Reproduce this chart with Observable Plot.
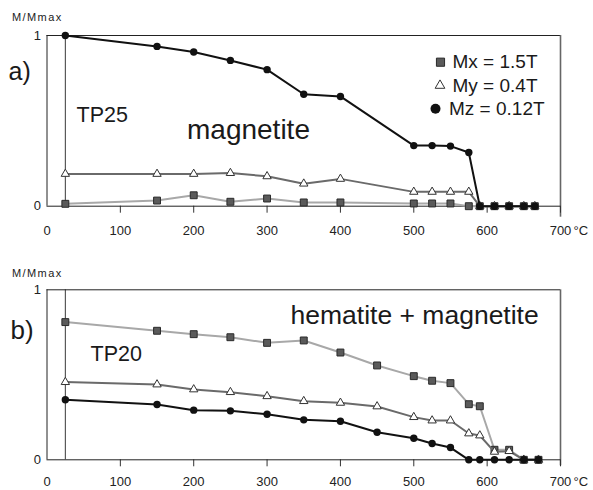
<!DOCTYPE html>
<html><head><meta charset="utf-8">
<script src="https://cdn.jsdelivr.net/npm/d3@7"></script>
<script src="https://cdn.jsdelivr.net/npm/@observablehq/plot@0.6"></script>
<style>
body{margin:0;background:#fff;}
#chart{width:593px;}
#chart svg{display:block;}
.mlabel{letter-spacing:1.4px;}
</style></head><body><div id="chart"></div>
<script>
// ---- data ----
const xTicks = [0, 100, 200, 300, 400, 500, 600, 700];
const yTicks = [0, 1];
const seriesNames = ["Mx = 1.5T", "My = 0.4T", "Mz = 0.12T"];

const tempsA = [25, 150, 200, 250, 300, 350, 400, 500, 525, 550, 575, 590, 610, 630, 650, 665];
const mxA = [0.014, 0.033, 0.064, 0.026, 0.045, 0.022, 0.022, 0.016, 0.016, 0.016, 0, 0, 0, 0, 0, 0];
const myA = [0.189, 0.189, 0.189, 0.194, 0.175, 0.132, 0.160, 0.084, 0.084, 0.084, 0.084, 0, 0, 0, 0, 0];
const mzA = [1, 0.936, 0.903, 0.854, 0.800, 0.656, 0.643, 0.355, 0.355, 0.352, 0.315, 0, 0, 0, 0, 0];

const tempsB = [25, 150, 200, 250, 300, 350, 400, 450, 500, 525, 550, 575, 590, 610, 630, 650, 670];
const mxB = [0.81, 0.759, 0.739, 0.721, 0.688, 0.702, 0.631, 0.555, 0.492, 0.465, 0.451, 0.327, 0.315, 0.059, 0.059, 0, 0];
const myB = [0.457, 0.443, 0.414, 0.398, 0.374, 0.345, 0.335, 0.314, 0.251, 0.231, 0.231, 0.155, 0.143, 0.047, 0.051, 0, 0];
const mzB = [0.353, 0.325, 0.292, 0.288, 0.268, 0.235, 0.227, 0.162, 0.127, 0.096, 0.072, 0, 0, 0, 0, 0, 0];

const panelLabels = ["a)", "b)"];
const sampleNames = ["TP25", "TP20"];
const mineralNames = ["magnetite", "hematite + magnetite"];
const axisTitle = "M/Mmax";
const unitLabel = "°C";

// ---- styles ----
const font = "'Liberation Sans', Arial, Helvetica, sans-serif";
const seriesStyles = [
  {symbol: "square", line: "#a8a8a8", fill: "#5a5a5a", stroke: "#2a2a2a", r: 3.9, lr: 4.6},
  {symbol: "triangle", line: "#6a6a6a", fill: "#ffffff", stroke: "#333333", r: 3.1, lr: 3.6},
  {symbol: "circle", line: "#111111", fill: "#111111", stroke: "none", r: 3.7, lr: 5}
];

function panel(temps, series, opt) {
  const marks = [];
  // frame pieces
  marks.push(Plot.ruleY([1], {stroke: "#222", strokeWidth: 1}));
  marks.push(Plot.ruleX([0], {stroke: "#222", strokeWidth: 1}));
  marks.push(Plot.ruleX([700], {stroke: "#666", strokeWidth: 1.6, insetBottom: -opt.rightExt}));
  marks.push(Plot.ruleX([temps[0]], {stroke: "#222", strokeWidth: 0.9}));
  // axes: tick lines + labels
  marks.push(Plot.axisX(xTicks.slice(1), {tickSize: 7, tickFormat: () => "", stroke: "#333"}));
  marks.push(Plot.text(xTicks, {x: d => d, text: d => String(d), frameAnchor: "bottom", dy: opt.labelDy, lineAnchor: "middle", fontSize: 13, fill: "#222"}));
  marks.push(Plot.text(yTicks, {y: d => d, text: d => String(d), frameAnchor: "left", dx: -6, textAnchor: "end", lineAnchor: "middle", fontSize: 13, fill: "#222"}));
  marks.push(Plot.ruleY([0], {stroke: "#222", strokeWidth: 1}));
  // series
  series.forEach((vals, i) => {
    const s = seriesStyles[i];
    const rows = temps.map((t, j) => ({t, v: vals[j]}));
    marks.push(Plot.line(rows, {x: "t", y: "v", stroke: s.line, strokeWidth: 2}));
    marks.push(Plot.dot(rows, {x: "t", y: "v", symbol: s.symbol, r: s.r, fill: s.fill, stroke: s.stroke, strokeWidth: 1}));
  });
  // texts
  marks.push(Plot.text([axisTitle], {text: d => d, frameAnchor: "top-left", dx: -35, dy: opt.titleDy, textAnchor: "start", lineAnchor: "bottom", fontSize: 11, fill: "#222", className: "mlabel"}));
  marks.push(Plot.text([unitLabel], {text: d => d, frameAnchor: "bottom-right", dx: 13, dy: opt.labelDy - 0.5, textAnchor: "start", lineAnchor: "middle", fontSize: 13, fill: "#222"}));
  opt.notes.forEach(n => {
    marks.push(Plot.text([n.text], {text: d => d, frameAnchor: "top-left", dx: n.dx, dy: n.dy, textAnchor: "start", lineAnchor: "bottom", fontSize: n.size, fill: "#1a1a1a"}));
  });
  if (opt.legend) {
    opt.legend.forEach((L, i) => {
      const s = seriesStyles[i];
      marks.push(Plot.dot([seriesNames[i]], {frameAnchor: "top-left", dx: L.sx, dy: L.y, symbol: s.symbol, r: s.lr, fill: s.fill, stroke: s.stroke, strokeWidth: 1}));
      marks.push(Plot.text([seriesNames[i]], {text: d => d, frameAnchor: "top-left", dx: L.tx, dy: L.y, textAnchor: "start", lineAnchor: "middle", fontSize: 19, fill: "#1a1a1a"}));
    });
  }
  return Plot.plot({
    width: 593, height: 245,
    marginLeft: 46.5, marginRight: 33, marginTop: opt.mt, marginBottom: opt.mb,
    x: {domain: [0, 700], label: null},
    y: {domain: [0, 1], label: null, axis: null},
    style: {fontFamily: font, fontSize: "13px", overflow: "visible", background: "#fff", color: "#222"},
    marks
  });
}

const chart = document.getElementById("chart");
chart.appendChild(panel(tempsA, [mxA, myA, mzA], {
  mt: 35, mb: 39.3, labelDy: 25, rightExt: 11, titleDy: -14.5,
  notes: [
    {text: panelLabels[0], dx: -38.5, dy: 44, size: 25},
    {text: sampleNames[0], dx: 29.5, dy: 86, size: 21.5},
    {text: mineralNames[0], dx: 140, dy: 103, size: 28}
  ],
  legend: [
    {sx: 393.5, tx: 405.5, y: 26.7},
    {sx: 393, tx: 405.5, y: 50},
    {sx: 388.5, tx: 402, y: 73.3}
  ]
}));
chart.appendChild(panel(tempsB, [mxB, myB, mzB], {
  mt: 44.3, mb: 30.7, labelDy: 22.4, rightExt: 6, titleDy: -13,
  notes: [
    {text: panelLabels[1], dx: -36.5, dy: 49, size: 26},
    {text: sampleNames[1], dx: 43.5, dy: 70.7, size: 21.5},
    {text: mineralNames[1], dx: 243.5, dy: 34, size: 26.5}
  ]
}));
</script></body></html>
